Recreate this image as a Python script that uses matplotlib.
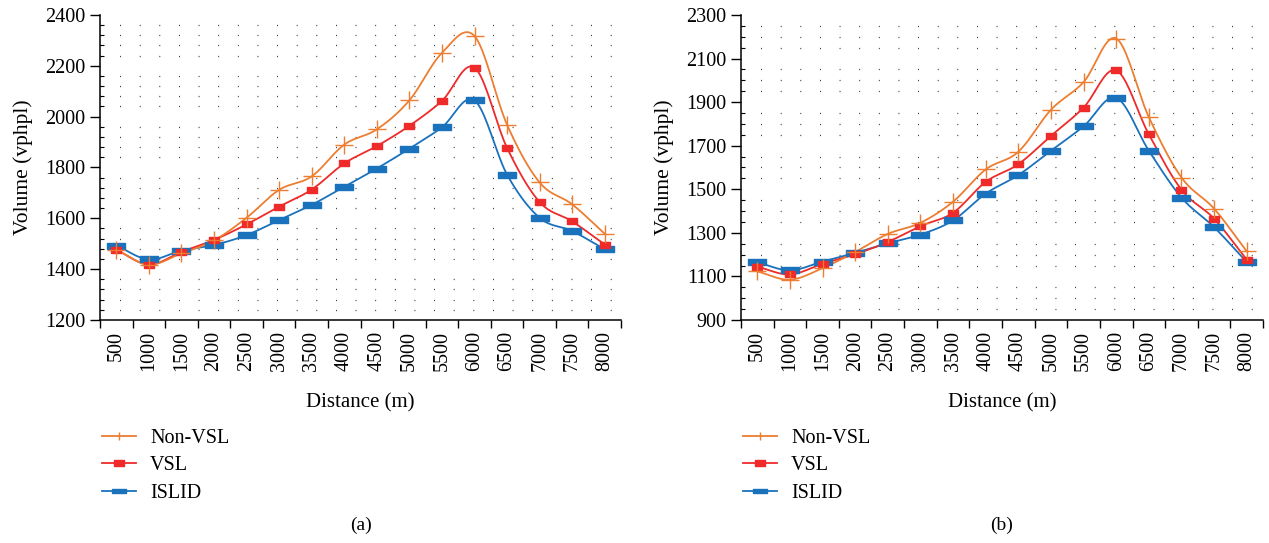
import numpy as np
import matplotlib
matplotlib.use('Agg')
import matplotlib.pyplot as plt
from matplotlib.ticker import MultipleLocator, FixedLocator, NullFormatter

plt.rcParams['font.family'] = ['Liberation Serif', 'DejaVu Serif']

distances = ['500', '1000', '1500', '2000', '2500', '3000', '3500', '4000',
             '4500', '5000', '5500', '6000', '6500', '7000', '7500', '8000']

# (a)
non_vsl_a = [1477, 1418, 1462, 1513, 1602, 1712, 1765, 1890,
             1950, 2064, 2251, 2317, 1968, 1741, 1655, 1539]
vsl_a = [1476, 1418, 1468, 1515, 1576, 1646, 1713, 1816,
         1884, 1964, 2062, 2193, 1877, 1664, 1588, 1497]
islid_a = [1493, 1438, 1473, 1495, 1534, 1593, 1653, 1724,
           1796, 1874, 1958, 2064, 1772, 1602, 1550, 1478]
yticks_a = [1200, 1400, 1600, 1800, 2000, 2200, 2400]

# (b)
non_vsl_b = [1123, 1085, 1138, 1212, 1295, 1346, 1443, 1591,
             1672, 1865, 1992, 2192, 1831, 1554, 1411, 1215]
vsl_b = [1145, 1109, 1158, 1202, 1258, 1331, 1392, 1534,
         1615, 1745, 1875, 2046, 1752, 1498, 1365, 1177]
islid_b = [1165, 1128, 1168, 1208, 1252, 1292, 1357, 1480,
           1565, 1677, 1789, 1920, 1677, 1462, 1326, 1166]
yticks_b = [900, 1100, 1300, 1500, 1700, 1900, 2100, 2300]

ORANGE = '#ED7D31'
RED = '#EE2A2A'
BLUE = '#1A72BD'

red_box = [(-1.0, -0.55), (1.0, -0.55), (1.0, 0.55), (-1.0, 0.55), (-1.0, -0.55)]
blue_box = [(-1.0, -0.32), (1.0, -0.32), (1.0, 0.32), (-1.0, 0.32), (-1.0, -0.32)]


def smooth(xs, ys, n=20):
    # catmull-rom curve through the points, like excel's smoothed lines
    xs = np.asarray(xs, float)
    ys = np.asarray(ys, float)
    px = np.concatenate([[2 * xs[0] - xs[1]], xs, [2 * xs[-1] - xs[-2]]])
    py = np.concatenate([[2 * ys[0] - ys[1]], ys, [2 * ys[-1] - ys[-2]]])
    out_x, out_y = [], []
    t = np.linspace(0, 1, n, endpoint=False)
    for i in range(1, len(px) - 2):
        for p, out in ((px, out_x), (py, out_y)):
            p0, p1, p2, p3 = p[i - 1], p[i], p[i + 1], p[i + 2]
            out.extend(0.5 * ((2 * p1) + (-p0 + p2) * t
                              + (2 * p0 - 5 * p1 + 4 * p2 - p3) * t ** 2
                              + (-p0 + 3 * p1 - 3 * p2 + p3) * t ** 3))
    out_x.append(xs[-1])
    out_y.append(ys[-1])
    return out_x, out_y


def draw_panel(ax, non_vsl, vsl, islid, yticks, minor):
    xs = np.arange(len(distances)) + 0.5
    for vals, color in ((islid, BLUE), (vsl, RED), (non_vsl, ORANGE)):
        sx, sy = smooth(xs, vals)
        ax.plot(sx, sy, color=color, lw=1.3, zorder=3)
    ax.plot(xs, islid, ls='none', marker=blue_box, ms=13, color=BLUE, zorder=4)
    ax.plot(xs, vsl, ls='none', marker=red_box, ms=7, color=RED, zorder=5)
    ax.plot(xs, non_vsl, ls='none', marker='+', ms=13, mew=1.0, color=ORANGE, zorder=6)

    ax.set_xlim(0, len(distances))
    ax.set_ylim(yticks[0], yticks[-1])
    ax.xaxis.set_major_locator(FixedLocator(np.arange(len(distances) + 1)))
    ax.xaxis.set_major_formatter(NullFormatter())
    ax.xaxis.set_minor_locator(FixedLocator(xs))
    ax.set_xticklabels(distances, minor=True, rotation=90, fontsize=14.5)
    ax.tick_params(axis='x', which='major', direction='out', length=6, width=1.0)
    ax.tick_params(axis='x', which='minor', length=0, pad=8)
    ax.yaxis.set_major_locator(FixedLocator(yticks))
    ax.yaxis.set_minor_locator(MultipleLocator(minor))
    ax.tick_params(axis='y', which='major', direction='out', length=7, width=1.0,
                   labelsize=14.5)
    ax.tick_params(axis='y', which='minor', direction='in', length=3, width=0.8)

    # dotted background
    ax.grid(which='minor', axis='y', color='#222222', lw=0.9,
            linestyle=(0, (0.7, 15)), zorder=0)

    for side in ('top', 'right'):
        ax.spines[side].set_visible(False)
    for side in ('left', 'bottom'):
        ax.spines[side].set_linewidth(1.1)
    ax.set_ylabel('Volume (vphpl)', fontsize=15.5, labelpad=9)
    ax.set_xlabel('Distance (m)', fontsize=15, labelpad=16)


fig = plt.figure(figsize=(12.69, 5.43), dpi=100)
ax1 = fig.add_axes([0.0788, 0.4107, 0.4106, 0.5617])
ax2 = fig.add_axes([0.5839, 0.4107, 0.4114, 0.5617])

draw_panel(ax1, non_vsl_a, vsl_a, islid_a, yticks_a, 40)
draw_panel(ax2, non_vsl_b, vsl_b, islid_b, yticks_b, 50)

for ax, tag in ((ax1, '(a)'), (ax2, '(b)')):
    h1, = ax.plot([], [], color=ORANGE, lw=1.3, marker='|', ms=6)
    h2, = ax.plot([], [], color=RED, lw=1.3, marker=red_box, ms=7)
    h3, = ax.plot([], [], color=BLUE, lw=1.3, marker=blue_box, ms=10)
    ax.legend([h1, h2, h3], ['Non-VSL', 'VSL', 'ISLID'],
              loc='upper left', bbox_to_anchor=(-0.012, -0.33),
              frameon=False, fontsize=14.5, handlelength=1.7,
              handletextpad=0.7, labelspacing=0.42, borderaxespad=0)
    ax.text(0.5, -0.672, tag, transform=ax.transAxes, ha='center', va='center',
            fontsize=14)

fig.savefig('out.png', dpi=100)
